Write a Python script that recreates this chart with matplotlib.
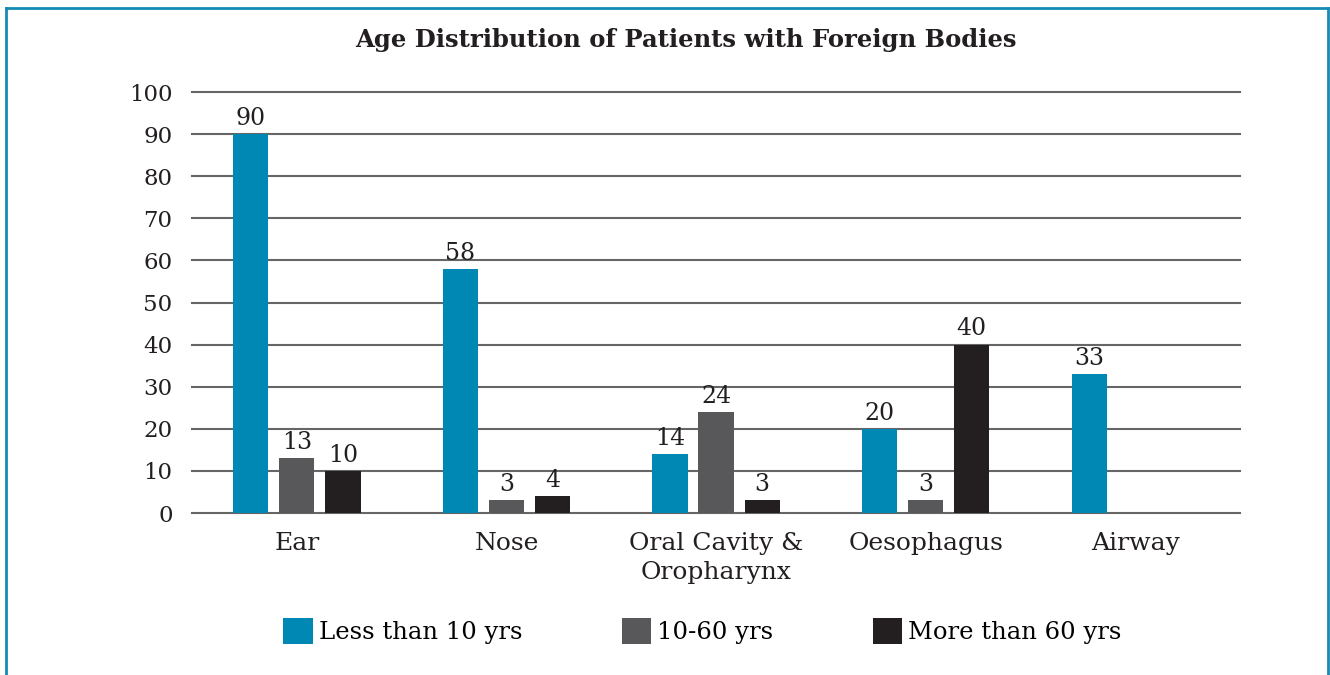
import matplotlib.pyplot as plt
import numpy as np
from matplotlib.lines import Line2D

categories = ['Ear', 'Nose', 'Oral Cavity &\nOropharynx', 'Oesophagus', 'Airway']
series = ['Less than 10 yrs', '10-60 yrs', 'More than 60 yrs']
under10 = [90, 58, 14, 20, 33]
mid = [13, 3, 24, 3, 0]
over60 = [10, 4, 3, 40, 0]
colors = ['#0088B4', '#58585A', '#231F20']

plt.rcParams['font.family'] = ['DejaVu Serif']

fig = plt.figure(figsize=(13.3, 6.75), dpi=100)
ax = fig.add_axes([0.1444, 0.24, 0.788, 0.6237])

x = np.arange(len(categories))
w = 0.168
step = 0.22
for i, (vals, c, lab) in enumerate(zip([under10, mid, over60], colors, series)):
    bars = ax.bar(x + (i - 1) * step, vals, w, color=c, label=lab, zorder=3)
    for b, v in zip(bars, vals):
        if v > 0:
            ax.text(b.get_x() + b.get_width() / 2, v + 1, str(v), ha='center', va='bottom',
                    fontsize=17, color='#231F20')

ax.set_xlim(-0.5, 4.5)
ax.set_ylim(0, 100)
ax.set_yticks(range(0, 101, 10))
ax.yaxis.grid(True, color='#666666', linewidth=1.5, zorder=0)
for gl in ax.yaxis.get_gridlines():
    gl.set_clip_on(False)
ax.set_axisbelow(True)
for s in ax.spines.values():
    s.set_visible(False)
ax.tick_params(length=0, labelsize=16.5, labelcolor='#231F20')
ax.tick_params(axis='y', pad=14)
ax.set_xticks(x)
ax.set_xticklabels(categories, linespacing=1.3, fontsize=18)
ax.tick_params(axis='x', pad=14)

fig.text(0.516, 0.94, 'Age Distribution of Patients with Foreign Bodies', ha='center', va='center',
         fontsize=17.5, fontweight='bold', color='#231F20')

ax.legend(loc='center', bbox_to_anchor=(0.487, -0.28), ncol=3, frameon=False, fontsize=17.5,
          handlelength=1.2, handleheight=1.3, handletextpad=0.25, columnspacing=4.1)

bc = '#168AB4'
fig.add_artist(Line2D([6 / 1330, 6 / 1330], [0, 1 - 8 / 675], color=bc, lw=2, transform=fig.transFigure))
fig.add_artist(Line2D([6 / 1330, 1328 / 1330], [1 - 8 / 675, 1 - 8 / 675], color=bc, lw=2, transform=fig.transFigure))
fig.add_artist(Line2D([1328 / 1330, 1328 / 1330], [0, 1 - 8 / 675], color=bc, lw=2, transform=fig.transFigure))

fig.savefig('out.png', dpi=100)
